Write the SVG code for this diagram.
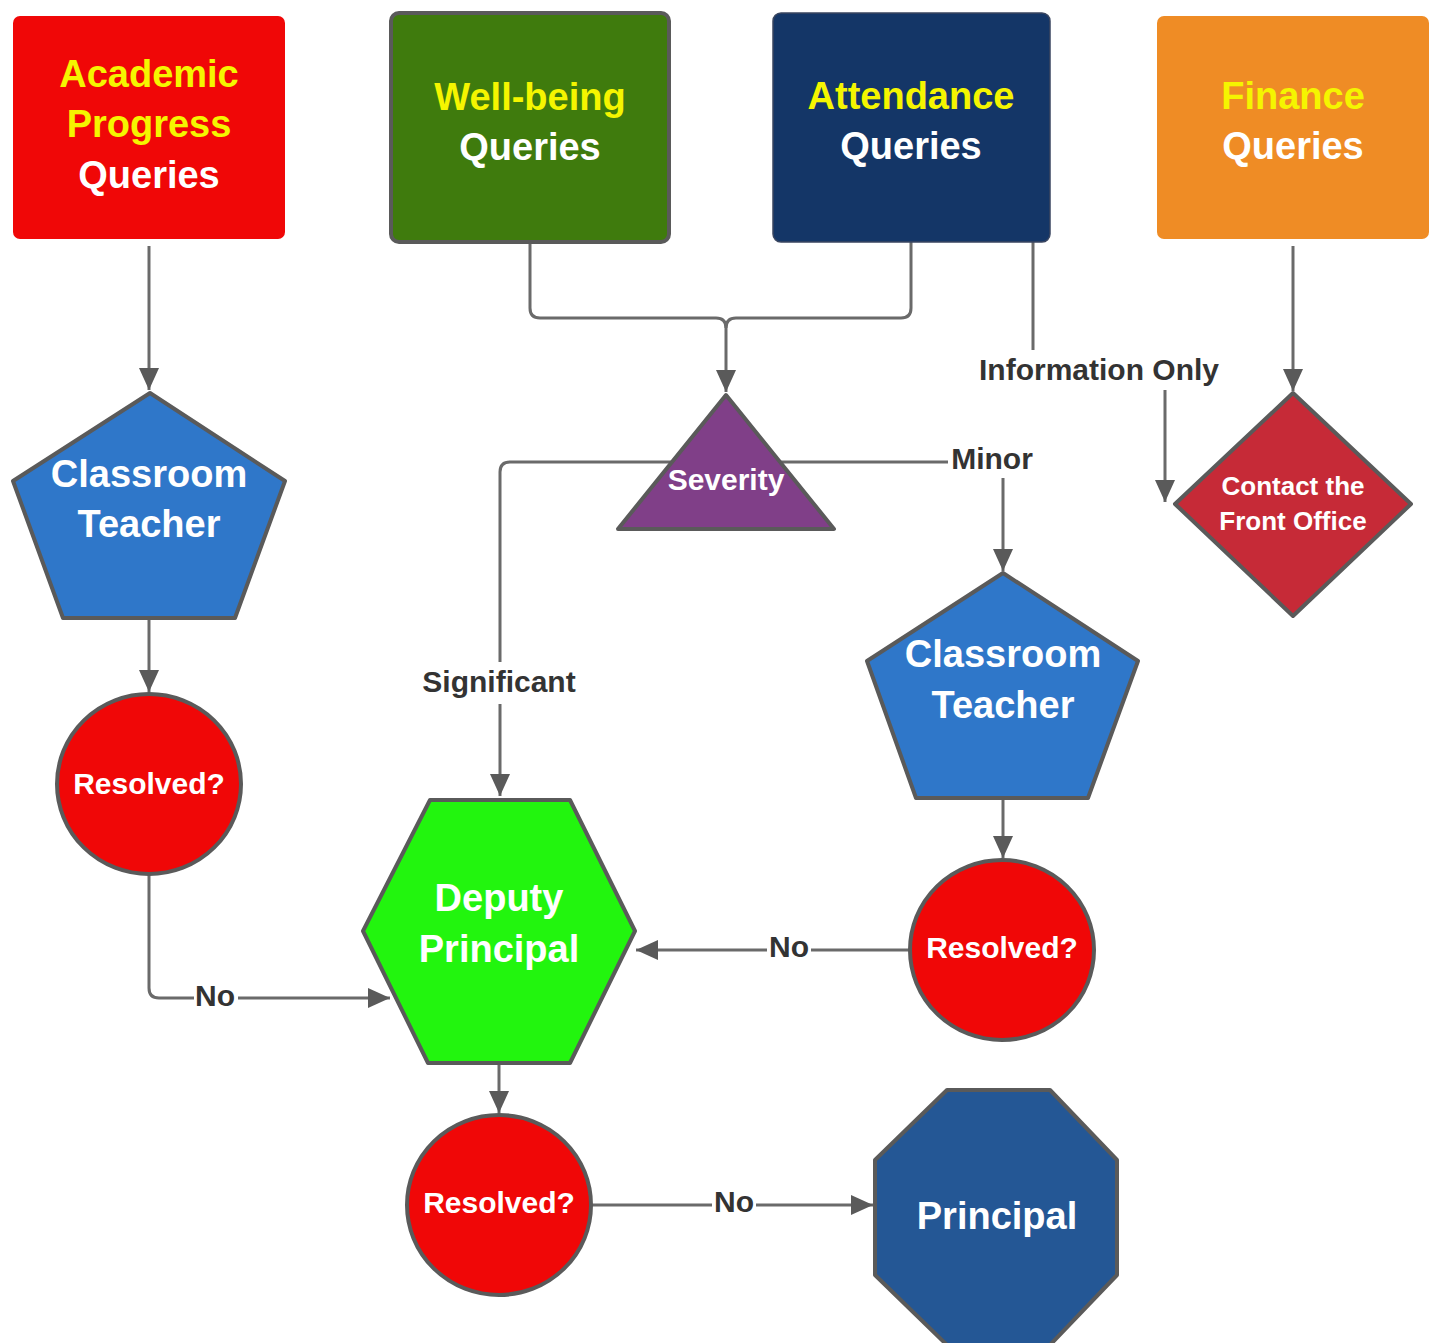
<svg xmlns="http://www.w3.org/2000/svg" width="1434" height="1343" viewBox="0 0 1434 1343">
<defs>
<marker id="ah" markerUnits="userSpaceOnUse" markerWidth="22" markerHeight="20" refX="22" refY="10" orient="auto">
<path d="M0,0 L22,10 L0,20 z" fill="#5a5a5a"/>
</marker>
<style>
.bg{fill:#ffffff}
.c{fill:none;stroke:#6a6a6a;stroke-width:3}
.a{marker-end:url(#ah)}
.sh{stroke:#5a5a5a;stroke-width:4;stroke-linejoin:round}
.t{font-family:"Liberation Sans",Arial,sans-serif;font-weight:bold;text-anchor:middle}
.big{font-size:38px}
.mid{font-size:30px}
.sm{font-size:26px}
.y{fill:#f5f500}
.w{fill:#ffffff}
.lbl{font-family:"Liberation Sans",Arial,sans-serif;font-weight:bold;font-size:30px;fill:#333333;text-anchor:middle}
</style>
</defs>
<rect class="bg" x="0" y="0" width="1434" height="1343"/>
<g id="connectors">
<path class="c a" d="M149,246 V390"/>
<path class="c" d="M530,243 V308 Q530,318 540,318 H716 Q726,318 726,328"/>
<path class="c a" d="M911,242 V308 Q911,318 901,318 H736 Q726,318 726,328 V392"/>
<path class="c a" d="M1033,242 V369 H1165 V502"/>
<path class="c a" d="M1293,246 V391"/>
<path class="c a" d="M726,462 H510 Q500,462 500,472 V796"/>
<path class="c a" d="M726,462 H993 Q1003,462 1003,472 V571"/>
<path class="c a" d="M149,620 V692"/>
<path class="c a" d="M149,874 V988 Q149,998 159,998 H390"/>
<path class="c a" d="M1003,800 V858"/>
<path class="c a" d="M909,950 H636"/>
<path class="c a" d="M499,1064 V1113"/>
<path class="c a" d="M592,1205 H873"/>
<rect class="bg" x="972" y="350" width="256" height="40"/>
<text class="lbl" x="1099" y="380">Information Only</text>
<rect class="bg" x="948" y="440" width="88" height="38"/>
<text class="lbl" x="992" y="469">Minor</text>
<rect class="bg" x="418" y="662" width="164" height="42"/>
<text class="lbl" x="499" y="692">Significant</text>
<rect class="bg" x="194" y="978" width="44" height="38"/>
<text class="lbl" x="215" y="1006">No</text>
<rect class="bg" x="767" y="929" width="44" height="38"/>
<text class="lbl" x="789" y="957">No</text>
<rect class="bg" x="712" y="1184" width="44" height="38"/>
<text class="lbl" x="734" y="1212">No</text>
</g>
<g id="academic">
<rect x="13" y="16" width="272" height="223" rx="7" fill="#f00707"/>
<text class="t big y" x="149" y="87">Academic</text>
<text class="t big y" x="149" y="137">Progress</text>
<text class="t big w" x="149" y="188">Queries</text>
</g>
<g id="wellbeing">
<rect x="391" y="13" width="278" height="229" rx="8" fill="#3f7b0d" stroke="#5a5a5a" stroke-width="4"/>
<text class="t big y" x="530" y="110">Well-being</text>
<text class="t big w" x="530" y="160">Queries</text>
</g>
<g id="attendance">
<rect x="773" y="13" width="277" height="229" rx="8" fill="#143667" stroke="#3a4660" stroke-width="1.5"/>
<text class="t big y" x="911" y="109">Attendance</text>
<text class="t big w" x="911" y="159">Queries</text>
</g>
<g id="finance">
<rect x="1157" y="16" width="272" height="223" rx="7" fill="#ef8c25"/>
<text class="t big y" x="1293" y="109">Finance</text>
<text class="t big w" x="1293" y="159">Queries</text>
</g>
<g id="teacher1">
<polygon class="sh" points="150,393 285,481 235,618 63,618 13,481" fill="#2f77c9"/>
<text class="t big w" x="149" y="487">Classroom</text>
<text class="t big w" x="149" y="537">Teacher</text>
</g>
<g id="severity">
<polygon class="sh" points="726,395 834,529 618,529" fill="#803f88"/>
<text class="t mid w" x="726" y="490">Severity</text>
</g>
<g id="frontoffice">
<polygon class="sh" points="1293,393 1411,504 1293,616 1175,504" fill="#c62a37"/>
<text class="t sm w" x="1293" y="495">Contact the</text>
<text class="t sm w" x="1293" y="530">Front Office</text>
</g>
<g id="teacher2">
<polygon class="sh" points="1003,573 1138,661 1088,798 916,798 867,661" fill="#2f77c9"/>
<text class="t big w" x="1003" y="667">Classroom</text>
<text class="t big w" x="1003" y="718">Teacher</text>
</g>
<g id="resolved1">
<ellipse class="sh" cx="149" cy="784" rx="92" ry="90" fill="#f00707"/>
<text class="t mid w" x="149" y="794">Resolved?</text>
</g>
<g id="resolved2">
<ellipse class="sh" cx="1002" cy="950" rx="92" ry="90" fill="#f00707"/>
<text class="t mid w" x="1002" y="958">Resolved?</text>
</g>
<g id="deputy">
<polygon class="sh" points="430,800 570,800 635,931 570,1063 428,1063 363,931" fill="#22f50e"/>
<text class="t big w" x="499" y="911">Deputy</text>
<text class="t big w" x="499" y="962">Principal</text>
</g>
<g id="resolved3">
<ellipse class="sh" cx="499" cy="1205" rx="92" ry="90" fill="#f00707"/>
<text class="t mid w" x="499" y="1213">Resolved?</text>
</g>
<g id="principal">
<polygon class="sh" points="947,1090 1050,1090 1117,1160 1117,1275 1050,1345 947,1345 875,1275 875,1160" fill="#245795"/>
<text class="t big w" x="997" y="1229">Principal</text>
</g>
</svg>
